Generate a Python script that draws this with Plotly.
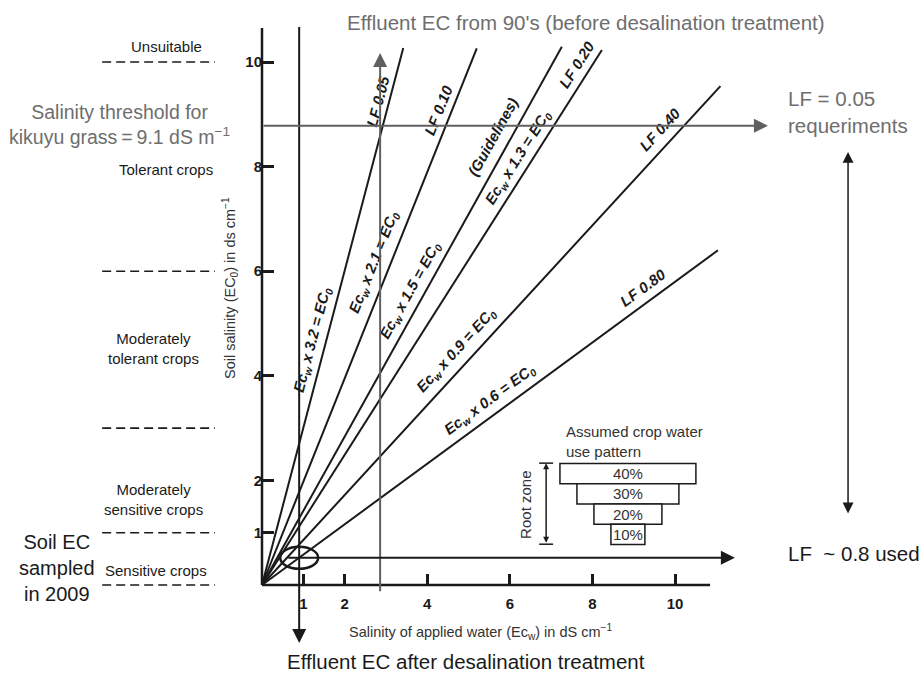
import math

import plotly.graph_objects as go

# values
X_TICKS = [1, 2, 4, 6, 8, 10]
Y_TICKS = [1, 2, 4, 6, 8, 10]

# leaching-fraction lines, all drawn from the origin
LF_NAMES = ["LF 0.05", "LF 0.10", "(Guidelines)", "LF 0.20", "LF 0.40", "LF 0.80"]
ECW_FACTORS = ["3.2", "2.1", "1.5", "1.3", "0.9", "0.6"]
LINE_END_X = [3.42, 5.20, 7.26, 8.23, 11.10, 11.04]
LINE_END_Y = [10.27, 10.26, 10.29, 10.23, 9.54, 6.40]

# crop tolerance classes in the left margin
CLASS_BOUNDS = [10, 6, 3, 1, 0]
CLASS_NAMES = [
    "Unsuitable",
    "Tolerant crops",
    "Moderately<br>tolerant crops",
    "Moderately<br>sensitive crops",
    "Sensitive crops",
]

WATER_USE_PCT = [40, 30, 20, 10]

EC_AFTER_DESAL = 0.9
EC_90S = 2.86
SOIL_EC_2009 = 0.52
LF005_LEVEL = 8.78

# drawing frame: whole page is one plot area, origin at (262, 585) px
PX_X, PX_Y = 41.3, 52.3
W, H = 921, 673
X_RANGE = [-262 / PX_X, (W - 262) / PX_X]
Y_RANGE = [-(H - 585) / PX_Y, 585 / PX_Y]

# label placement along each line (fraction of length)
FACTOR_POS = [0.45, 0.59, 0.535, 0.786, 0.449, 0.519]
LF_POS = [0.895, 0.876, 0.818, 0.959, 0.892, 0.854]
FACTOR_OFF = [13, 16, 14, 13, 16, 14]
LF_OFF = [11, 13, 16, 13, 15, 14]
CLASS_X = [-2.32, -2.32, -2.62, -2.62, -2.57]
CLASS_Y = [10.29, 7.95, 4.53, 1.63, 0.27]

FONT = "Liberation Sans, Arial, sans-serif"
BLACK = "#1a1a1a"
GREY_LINE = "#606060"
GREY_TEXT = "#6e6e6e"

fig = go.Figure()

# axis lines
fig.add_trace(go.Scatter(x=[0, 0], y=[0, 10.65], mode="lines", line={"color": BLACK, "width": 2.5}))
fig.add_trace(go.Scatter(x=[0, 10.85], y=[0, 0], mode="lines", line={"color": BLACK, "width": 2.5}))

# crop class boundaries
for b in CLASS_BOUNDS:
    fig.add_trace(
        go.Scatter(x=[-3.87, -1.14], y=[b, b], mode="lines", line={"color": BLACK, "width": 1.6, "dash": "9px,5px"})
    )

annotations = []


def label(text, x, y, size=15, color=BLACK, **kw):
    annotations.append(
        dict(text=text, x=x, y=y, xref="x", yref="y", showarrow=False,
             font={"family": FONT, "size": size, "color": color, **kw.pop("font", {})}, **kw)
    )


def arrow(x0, y0, x1, y1, color=BLACK, width=2, size=1.4, side="end"):
    annotations.append(
        dict(text="", x=x1, y=y1, ax=x0, ay=y0, xref="x", yref="y", axref="x", ayref="y",
             showarrow=True, arrowhead=2, startarrowhead=2, arrowsize=size, startarrowsize=size,
             arrowwidth=width, arrowcolor=color, arrowside=side, standoff=0, startstandoff=0)
    )


# leaching-fraction lines and their labels
for name, factor, ex, ey, tf, tl, of, ol in zip(
    LF_NAMES, ECW_FACTORS, LINE_END_X, LINE_END_Y, FACTOR_POS, LF_POS, FACTOR_OFF, LF_OFF
):
    fig.add_trace(go.Scatter(x=[0, ex], y=[0, ey], mode="lines", line={"color": BLACK, "width": 2}))
    dx, dy = ex * PX_X, ey * PX_Y
    length = math.hypot(dx, dy)
    cx, cy = dx / length, dy / length
    ang = -math.degrees(math.atan2(dy, dx))
    bold_it = {"weight": "bold", "style": "italic"}
    label(f"Ec<sub>w</sub> x {factor} = EC<sub>0</sub>", ex * tf, ey * tf, size=15, textangle=ang,
          xshift=-cy * of, yshift=cx * of, font=bold_it)
    label(name, ex * tl, ey * tl, size=15, textangle=ang, xshift=-cy * ol, yshift=cx * ol, font=bold_it)

# effluent / soil EC guides
arrow(EC_AFTER_DESAL, 10.7, EC_AFTER_DESAL, -1.11, color=BLACK, width=2)
arrow(EC_90S, -0.15, EC_90S, 10.17, color=GREY_LINE, width=2)
arrow(0, LF005_LEVEL, 12.25, LF005_LEVEL, color=GREY_LINE, width=2)
arrow(0.6, SOIL_EC_2009, 11.45, SOIL_EC_2009, color=BLACK, width=2)
arrow(14.19, 1.34, 14.19, 8.28, color=BLACK, width=1.5, size=1.45, side="end+start")

shapes = [
    dict(type="circle", xref="x", yref="y", x0=EC_AFTER_DESAL - 0.46, x1=EC_AFTER_DESAL + 0.46,
         y0=SOIL_EC_2009 - 0.21, y1=SOIL_EC_2009 + 0.21, line={"color": BLACK, "width": 2.5})
]

# assumed crop water use pattern (inset)
row_h = 0.388
rows_y = [2.13 - i * row_h for i in range(len(WATER_USE_PCT))]
widths = [p * 0.0823 for p in WATER_USE_PCT]
fig.add_trace(
    go.Bar(
        y=rows_y,
        x=widths,
        base=[8.86 - w / 2 for w in widths],
        orientation="h",
        width=row_h,
        marker={"color": "white", "line": {"color": BLACK, "width": 1.5}},
        text=[f"{p}%" for p in WATER_USE_PCT],
        textposition="inside",
        insidetextanchor="middle",
        constraintext="none",
        textfont={"family": FONT, "size": 15, "color": "#333"},
        hoverinfo="skip",
    )
)
arrow(6.88, 0.78, 6.88, 2.33, color=BLACK, width=1.5, size=0.8, side="end+start")
fig.add_trace(
    go.Scatter(x=[6.88, 6.88], y=[0.78, 2.33], mode="markers",
               marker={"symbol": "line-ew", "size": 10, "line": {"color": BLACK, "width": 1.5}})
)
label("Root zone", 6.39, 1.53, size=15, textangle=-90, color="#333")
label("Assumed crop water<br>use pattern", 7.31, 2.74, size=15, xanchor="left", align="left", color="#333")

# texts
label("Effluent EC from 90's (before desalination treatment)", 7.857, 10.746, size=20.5, color=GREY_TEXT)
label("Salinity threshold for<br>kikuyu grass\u2009=\u20099.1 dS m<sup>\u22121</sup>", -3.44, 8.81, size=19.5,
      color=GREY_TEXT)
label("LF = 0.05<br>requeriments", 12.69, 9.04, size=20.5, color=GREY_TEXT, xanchor="left", align="left")
label("LF  ~ 0.8 used", 12.69, 0.61, size=20.5, color=BLACK, xanchor="left")
label("Soil EC<br>sampled<br>in 2009", -4.96, 0.33, size=20, color=BLACK)
for name, cx_, cy_ in zip(CLASS_NAMES, CLASS_X, CLASS_Y):
    label(name, cx_, cy_, size=15, color=BLACK)
label("Soil salinity (EC<sub>0</sub>) in ds cm<sup>\u22121</sup>", -0.775, 5.68, size=14.5, textangle=-90,
      color="#333")
label("Salinity of applied water (Ec<sub>w</sub>) in dS cm<sup>\u22121</sup>", 5.28, -0.90, size=14.5,
      color="#333")
label("Effluent EC after desalination treatment", 4.94, -1.47, size=20.5, color=BLACK)

fig.update_layout(
    width=W,
    height=H,
    margin={"l": 0, "r": 0, "t": 0, "b": 0},
    paper_bgcolor="white",
    plot_bgcolor="white",
    showlegend=False,
    font={"family": FONT, "color": BLACK},
    annotations=annotations,
    shapes=shapes,
    xaxis={
        "range": X_RANGE,
        "domain": [0, 1],
        "anchor": "free",
        "position": 88 / H,
        "showgrid": False,
        "zeroline": False,
        "showline": False,
        "ticks": "inside",
        "ticklen": 11,
        "tickwidth": 2.5,
        "tickcolor": BLACK,
        "tickmode": "array",
        "tickvals": X_TICKS,
        "tickfont": {"family": FONT, "size": 15, "weight": "bold", "color": BLACK},
        "ticklabelstandoff": 8,
    },
    yaxis={
        "range": Y_RANGE,
        "domain": [0, 1],
        "anchor": "free",
        "position": 262 / W,
        "side": "left",
        "showgrid": False,
        "zeroline": False,
        "showline": False,
        "ticks": "inside",
        "ticklen": 11,
        "tickwidth": 2.5,
        "tickcolor": BLACK,
        "tickmode": "array",
        "tickvals": Y_TICKS,
        "tickfont": {"family": FONT, "size": 15, "weight": "bold", "color": BLACK},
    },
)

# page body has a default 8px margin; drop it so the figure fills the window
fig.write_html(
    "out.html",
    config={"displayModeBar": False},
    post_script="document.body.style.margin='0';document.body.style.overflow='hidden';",
)
